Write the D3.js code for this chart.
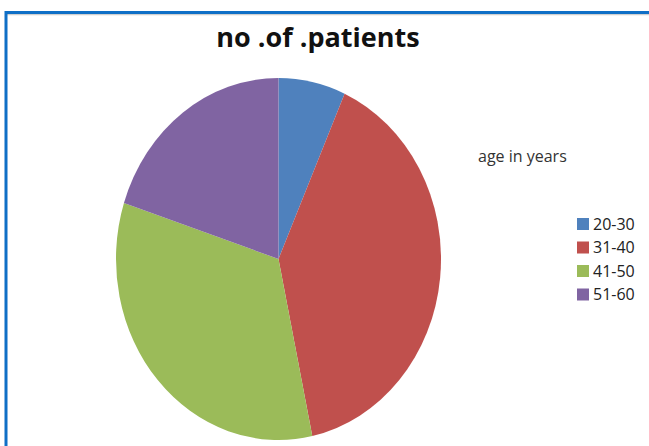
<!DOCTYPE html>
<html>
<head>
<meta charset="utf-8">
<script src="https://cdn.jsdelivr.net/npm/d3@7"></script>
<style>
  html, body { margin: 0; padding: 0; background: #fff; }
  svg { display: block; }
</style>
</head>
<body>
<svg id="chart" width="649" height="446"></svg>
<script>
// Age groups and patient counts
const categories = ["20-30", "31-40", "41-50", "51-60"];
const patients = [2, 12, 10, 6];
const colors = ["#4F81BD", "#C0504D", "#9BBB59", "#8064A2"];
const chartTitle = "no .of .patients";
const legendTitle = "age in years";

const svg = d3.select("#chart");
const W = 649, H = 446;

// Frame: blue outline open towards the right and bottom
svg.append("line").attr("x1", 6).attr("x2", W).attr("y1", 14.5).attr("y2", 14.5)
  .attr("stroke", "#d0d0d0").attr("stroke-width", 1.5);
svg.append("line").attr("x1", 6).attr("x2", W).attr("y1", 12.5).attr("y2", 12.5)
  .attr("stroke", "#0F6FC6").attr("stroke-width", 3);
svg.append("line").attr("x1", 6).attr("x2", 6).attr("y1", 11).attr("y2", H)
  .attr("stroke", "#0F6FC6").attr("stroke-width", 3);

// Title
svg.append("text")
  .attr("x", 318).attr("y", 47)
  .attr("text-anchor", "middle")
  .attr("font-family", "'Open Sans', 'Liberation Sans', sans-serif")
  .attr("font-weight", "bold")
  .attr("font-size", 27)
  .attr("fill", "#111")
  .text(chartTitle);

// Pie (slightly taller than wide)
const cx = 278.5, cy = 259, rx = 162.5, ry = 181;
const pie = d3.pie().sort(null).value(d => d.v);
const arc = d3.arc().innerRadius(0).outerRadius(rx);
const data = categories.map((c, i) => ({ c, v: patients[i] }));

svg.append("g")
  .attr("transform", `translate(${cx},${cy}) scale(1,${ry / rx})`)
  .selectAll("path")
  .data(pie(data))
  .join("path")
  .attr("d", arc)
  .attr("fill", (d, i) => colors[i]);

// Legend heading
svg.append("text")
  .attr("x", 478).attr("y", 162)
  .attr("font-family", "'Open Sans', 'Liberation Sans', sans-serif")
  .attr("font-size", 16)
  .attr("fill", "#333")
  .text(legendTitle);

// Legend entries
const legend = svg.append("g").attr("transform", "translate(577,218)");
const rowH = 23.5;
const item = legend.selectAll("g")
  .data(categories)
  .join("g")
  .attr("transform", (d, i) => `translate(0,${i * rowH})`);
item.append("rect")
  .attr("width", 12).attr("height", 12)
  .attr("fill", (d, i) => colors[i]);
item.append("text")
  .attr("x", 16).attr("y", 11.5)
  .attr("font-family", "'Open Sans', 'Liberation Sans', sans-serif")
  .attr("font-size", 16)
  .attr("fill", "#222")
  .text(d => d);
</script>
</body>
</html>
